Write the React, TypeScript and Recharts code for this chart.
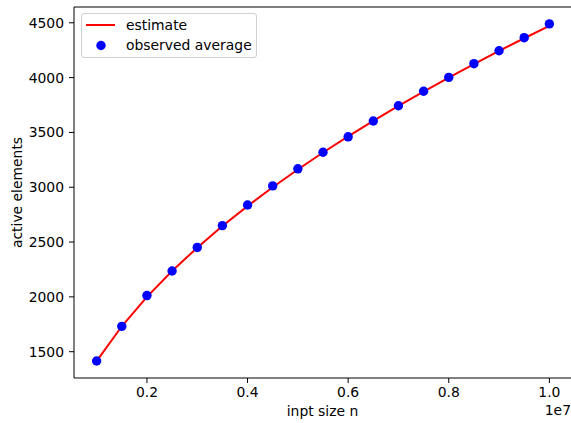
import React from "react";
import {
  ComposedChart,
  Line,
  XAxis,
  YAxis,
  ReferenceLine,
} from "recharts";

const inputSizes = [
  1000000, 1500000, 2000000, 2500000, 3000000, 3500000, 4000000, 4500000,
  5000000, 5500000, 6000000, 6500000, 7000000, 7500000, 8000000, 8500000,
  9000000, 9500000, 10000000,
];
const estimate = [
  1414, 1732, 2000, 2236, 2449, 2646, 2828, 3000, 3162, 3317, 3464, 3606,
  3742, 3873, 4000, 4123, 4243, 4359, 4472,
];
const observed = [
  1415, 1731, 2012, 2236, 2451, 2650, 2838, 3012, 3168, 3319, 3460, 3604,
  3743, 3876, 4002, 4127, 4245, 4364, 4490,
];
const xTicks = [2000000, 4000000, 6000000, 8000000, 10000000];
const yTicks = [1500, 2000, 2500, 3000, 3500, 4000, 4500];

const data = inputSizes.map((n, i) => ({
  n,
  estimate: estimate[i],
  observed: observed[i],
}));

const FONT = "DejaVu Sans, sans-serif";
const FS = 13.9;

function LegendBox() {
  return (
    <div
      style={{
        position: "absolute",
        left: 81,
        top: 13,
        width: 176,
        height: 45,
        boxSizing: "border-box",
        border: "1px solid #d0d0d0",
        borderRadius: 3,
        background: "rgba(255,255,255,0.8)",
      }}
    >
      <svg width={174} height={43} style={{ position: "absolute", left: 0, top: 0 }}>
        <line x1={4} x2={33} y1={11} y2={11} stroke="#ff0000" strokeWidth={2} />
        <circle cx={19} cy={31.5} r={4.7} fill="#0000ff" />
        <text x={44} y={11} dy="0.35em" fontFamily={FONT} fontSize={FS} fill="#000">
          estimate
        </text>
        <text x={44} y={31.5} dy="0.35em" fontFamily={FONT} fontSize={FS} fill="#000">
          observed average
        </text>
      </svg>
    </div>
  );
}

function YLabel(props: any) {
  const vb = props.viewBox || {};
  const cy = vb.y + vb.height / 2;
  return (
    <text
      x={17}
      y={cy}
      transform={`rotate(-90, 17, ${cy})`}
      textAnchor="middle"
      dominantBaseline="central"
      fontFamily={FONT}
      fontSize={FS}
      fill="#000"
    >
      active elements
    </text>
  );
}

function XLabel(props: any) {
  const vb = props.viewBox || {};
  const cx = vb.x + (vb.width - 1) / 2;
  return (
    <g>
      <text
        x={cx}
        y={411}
        textAnchor="middle"
        dominantBaseline="central"
        fontFamily={FONT}
        fontSize={FS}
        fill="#000"
      >
        inpt size n
      </text>
      <text
        x={571}
        y={410}
        textAnchor="end"
        dominantBaseline="central"
        fontFamily={FONT}
        fontSize={FS}
        fill="#000"
      >
        1e7
      </text>
    </g>
  );
}

export default function App() {
  return (
    <div
      style={{
        position: "absolute",
        left: 0,
        top: 0,
        width: 571,
        height: 423,
        overflow: "hidden",
        background: "#fff",
      }}
    >
      <ComposedChart
        width={572}
        height={423}
        data={data}
        margin={{ top: 7, right: 0, bottom: 0, left: 0 }}
      >
        <XAxis
          dataKey="n"
          type="number"
          domain={[550000, 10450000]}
          ticks={xTicks}
          allowDataOverflow
          tickFormatter={(v: number) => (v / 1e7).toFixed(1)}
          tick={{ fill: "#000", fontFamily: FONT, fontSize: FS }}
          tickSize={5}
          tickMargin={4}
          axisLine={{ stroke: "#000", strokeWidth: 1 }}
          tickLine={{ stroke: "#000", strokeWidth: 1 }}
          height={45}
          label={<XLabel />}
        />
        <YAxis
          type="number"
          domain={[1260, 4644]}
          ticks={yTicks}
          allowDataOverflow
          tick={{ fill: "#000", fontFamily: FONT, fontSize: FS }}
          tickSize={5}
          tickMargin={5}
          axisLine={{ stroke: "#000", strokeWidth: 1 }}
          tickLine={{ stroke: "#000", strokeWidth: 1 }}
          width={74}
          label={<YLabel />}
        />
        <ReferenceLine y={4644} stroke="#000" strokeWidth={1} ifOverflow="visible" />
        <Line
          dataKey="estimate"
          stroke="#ff0000"
          strokeWidth={2}
          dot={false}
          activeDot={false}
          isAnimationActive={false}
        />
        <Line
          dataKey="observed"
          stroke="none"
          strokeWidth={0}
          dot={{ r: 4.7, fill: "#0000ff", stroke: "none" }}
          activeDot={false}
          isAnimationActive={false}
        />
      </ComposedChart>
      <LegendBox />
    </div>
  );
}
